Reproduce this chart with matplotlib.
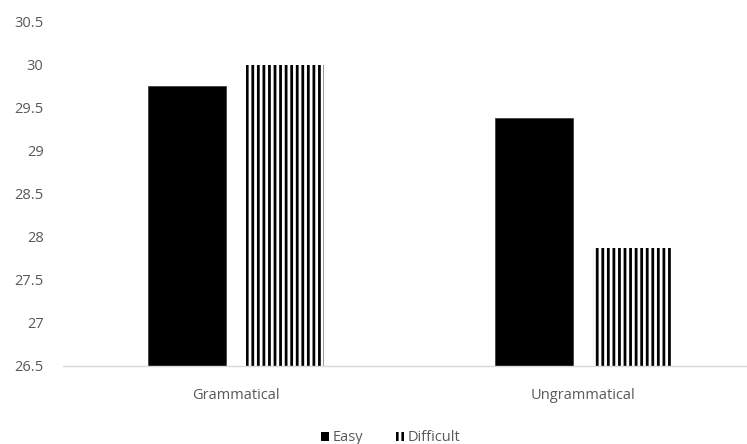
import matplotlib
matplotlib.use("Agg")
import matplotlib.pyplot as plt
import numpy as np
from matplotlib.patches import Patch

categories = ["Grammatical", "Ungrammatical"]
easy = [29.76, 29.38]
difficult = [30.0, 27.87]
series_names = ["Easy", "Difficult"]
yticks = [26.5, 27, 27.5, 28, 28.5, 29, 29.5, 30, 30.5]

plt.rcParams['font.family'] = ['Open Sans', 'DejaVu Sans']
plt.rcParams['hatch.linewidth'] = 2.0
plt.rcParams['hatch.color'] = 'black'

fig = plt.figure(figsize=(7.47, 4.44), dpi=100)
ax = fig.add_axes([0.0843, 0.1757, 1 - 0.0843, 0.9505 - 0.1757])

x = np.arange(len(categories))
w = 0.225
off = 0.142
ax.bar(x - off, easy, w, color='black', edgecolor='#404040', linewidth=0.6, label=series_names[0])
ax.bar(x + off, difficult, w, color='white', edgecolor='black', linewidth=0, hatch='|||', label=series_names[1])

ax.set_ylim(26.5, 30.5)
ax.set_xlim(-0.4986, 1.4726)
ax.set_yticks(yticks)
ax.set_yticklabels([f"{t:g}" for t in yticks])
ax.set_xticks(x)
ax.set_xticklabels(categories)
ax.tick_params(axis='both', length=0, labelsize=10.5, colors='#595959')
ax.tick_params(axis='y', pad=14)
ax.tick_params(axis='x', pad=16)
for s in ['top', 'right', 'left']:
    ax.spines[s].set_visible(False)
ax.spines['bottom'].set_color('#d9d9d9')
ax.spines['bottom'].set_linewidth(1)

handles = [Patch(facecolor='black', edgecolor='black', linewidth=0),
           Patch(facecolor='white', edgecolor='black', linewidth=0, hatch='|||')]
leg = fig.legend(handles, series_names, loc='center', bbox_to_anchor=(0.523, 0.014),
                 ncol=2, frameon=False, fontsize=10.5, handlelength=0.6, handleheight=0.6,
                 handletextpad=0.25, columnspacing=2.2, labelcolor='#595959')

fig.savefig("out.png", dpi=100)
